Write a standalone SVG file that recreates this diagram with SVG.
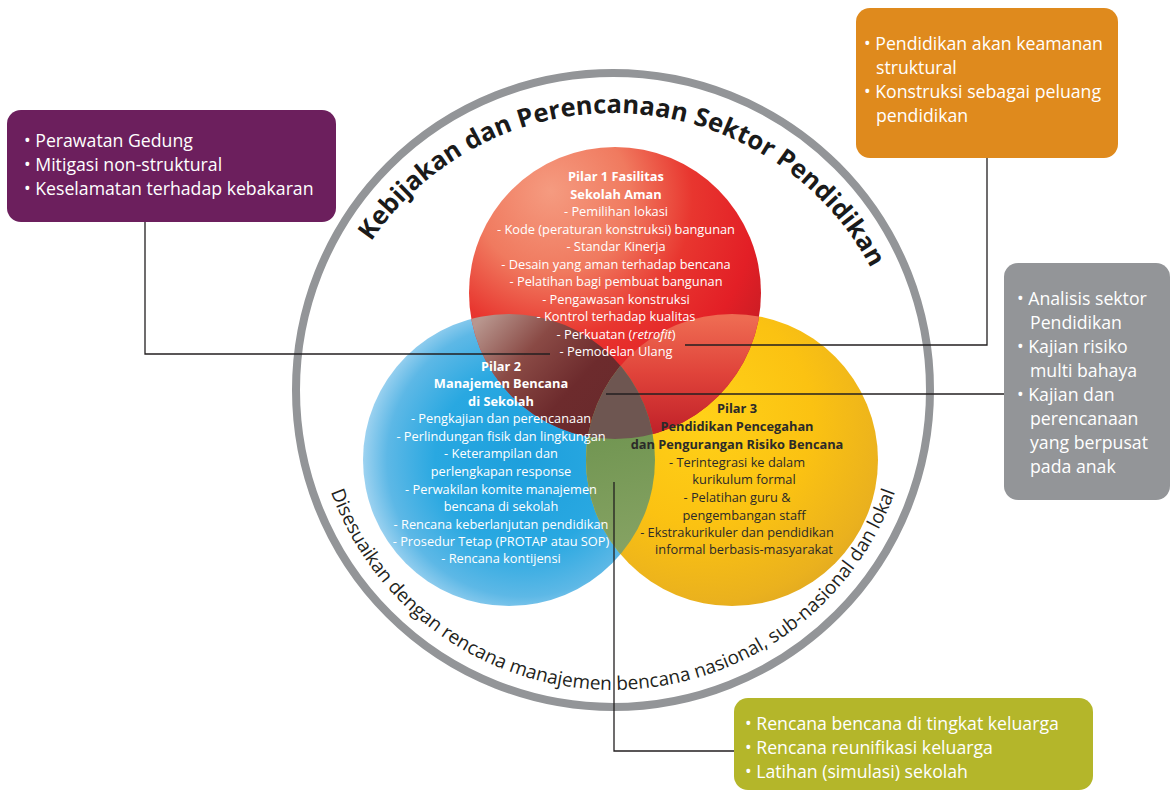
<svg xmlns="http://www.w3.org/2000/svg" width="1171" height="791" viewBox="0 0 1171 791">
<defs>
<style>
.f{font-family:"Open Sans","Liberation Sans",sans-serif}
.pw{fill:#fff;font-size:12.8px;text-anchor:middle}
.pd{fill:#2b2a29;font-size:12.8px;text-anchor:middle}
.b{font-weight:700}
.bx{fill:#fff;font-size:17.7px}
.conn{stroke:#231f20;stroke-width:1.3;fill:none}
.title{font-size:25.5px;font-weight:700;fill:#1a1a1a;letter-spacing:0.1px}
.sub{font-size:19px;fill:#231f20}
</style>
<radialGradient id="gRed" cx="0.3" cy="0.2" r="0.95" fx="0.28" fy="0.15">
<stop offset="0" stop-color="#f59b80"/>
<stop offset="0.28" stop-color="#f07a5f"/>
<stop offset="0.5" stop-color="#e8362f"/>
<stop offset="0.72" stop-color="#e31f26"/>
<stop offset="1" stop-color="#b01a22"/>
</radialGradient>
<radialGradient id="gBlue" cx="0.55" cy="0.5" r="0.55">
<stop offset="0" stop-color="#1d9fdc"/>
<stop offset="0.55" stop-color="#29a8e1"/>
<stop offset="0.85" stop-color="#5db8e6"/>
<stop offset="1" stop-color="#9dd2f0"/>
</radialGradient>
<radialGradient id="gYel" cx="0.4" cy="0.35" r="0.75">
<stop offset="0" stop-color="#ffd118"/>
<stop offset="0.5" stop-color="#fbc212"/>
<stop offset="0.85" stop-color="#eab11e"/>
<stop offset="1" stop-color="#dca523"/>
</radialGradient>
<linearGradient id="gRB" gradientUnits="userSpaceOnUse" x1="480" y1="320" x2="600" y2="430">
<stop offset="0" stop-color="#b8968e"/>
<stop offset="0.35" stop-color="#8a4a45"/>
<stop offset="0.7" stop-color="#6d2b2d"/>
<stop offset="1" stop-color="#692a2c"/>
</linearGradient>
<linearGradient id="gRY" gradientUnits="userSpaceOnUse" x1="700" y1="318" x2="700" y2="430">
<stop offset="0" stop-color="#ee6b52"/>
<stop offset="0.5" stop-color="#e0433a"/>
<stop offset="1" stop-color="#c2232a"/>
</linearGradient>
<linearGradient id="gBY" gradientUnits="userSpaceOnUse" x1="600" y1="420" x2="640" y2="600">
<stop offset="0" stop-color="#6f9450"/>
<stop offset="1" stop-color="#8ea86a"/>
</linearGradient>
<clipPath id="cA"><circle cx="615" cy="293" r="146"/></clipPath>
<clipPath id="cB"><circle cx="509" cy="460" r="146"/></clipPath>
<path id="arcTop" d="M321,405 A292,292 0 0 1 905,405"/>
<path id="arcBot" d="M313,390 A300,300 0 0 0 913,390"/>
</defs>
<rect width="1171" height="791" fill="#fff"/>

<g id="ring">
<circle cx="613" cy="390" r="317" fill="none" stroke="#939598" stroke-width="8"/>
<text class="f title"><textPath href="#arcTop" startOffset="474" text-anchor="middle">Kebijakan dan Perencanaan Sektor Pendidikan</textPath></text>
<text class="f sub"><textPath href="#arcBot" startOffset="50%" text-anchor="middle">Disesuaikan dengan rencana manajemen bencana nasional, sub-nasional dan lokal</textPath></text>
</g>

<g id="venn">
<circle cx="509" cy="460" r="146" fill="url(#gBlue)"/>
<circle cx="732" cy="460" r="146" fill="url(#gYel)"/>
<circle cx="615" cy="293" r="146" fill="url(#gRed)"/>
<circle cx="509" cy="460" r="146" fill="url(#gRB)" clip-path="url(#cA)"/>
<circle cx="732" cy="460" r="146" fill="url(#gRY)" clip-path="url(#cA)"/>
<circle cx="732" cy="460" r="146" fill="url(#gBY)" clip-path="url(#cB)"/>
<g clip-path="url(#cA)"><circle cx="732" cy="460" r="146" fill="#6e5651" clip-path="url(#cB)"/></g>
</g>

<g id="pilar1" class="f">
<text class="pw b" x="616" y="181">Pilar 1 Fasilitas</text>
<text class="pw b" x="616" y="198.5">Sekolah Aman</text>
<text class="pw" x="616" y="216">- Pemilihan lokasi</text>
<text class="pw" x="616" y="233.5">- Kode (peraturan konstruksi) bangunan</text>
<text class="pw" x="616" y="251">- Standar Kinerja</text>
<text class="pw" x="616" y="268.5">- Desain yang aman terhadap bencana</text>
<text class="pw" x="616" y="286">- Pelatihan bagi pembuat bangunan</text>
<text class="pw" x="616" y="303.5">- Pengawasan konstruksi</text>
<text class="pw" x="616" y="321">- Kontrol terhadap kualitas</text>
<text class="pw" x="616" y="338.5">- Perkuatan (<tspan font-style="italic">retrofit</tspan>)</text>
<text class="pw" x="616" y="356">- Pemodelan Ulang</text>
</g>

<g id="pilar2" class="f">
<text class="pw b" x="501" y="370.7">Pilar 2</text>
<text class="pw b" x="501" y="388">Manajemen Bencana</text>
<text class="pw b" x="501" y="405.7">di Sekolah</text>
<text class="pw" x="501" y="423.3">- Pengkajian dan perencanaan</text>
<text class="pw" x="501" y="440.7">- Perlindungan fisik dan lingkungan</text>
<text class="pw" x="501" y="458.3">- Keterampilan dan</text>
<text class="pw" x="501" y="476">perlengkapan response</text>
<text class="pw" x="501" y="493.7">- Perwakilan komite manajemen</text>
<text class="pw" x="501" y="511">bencana di sekolah</text>
<text class="pw" x="501" y="528.7">- Rencana keberlanjutan pendidikan</text>
<text class="pw" x="501" y="546">- Prosedur Tetap (PROTAP atau SOP)</text>
<text class="pw" x="501" y="563.3">- Rencana kontijensi</text>
</g>

<g id="pilar3" class="f">
<text class="pd b" x="737" y="413.3">Pilar 3</text>
<text class="pd b" x="737" y="430.7">Pendidikan Pencegahan</text>
<text class="pd b" x="737" y="448.7">dan Pengurangan Risiko Bencana</text>
<text class="pd" x="737" y="466.7">- Terintegrasi ke dalam</text>
<text class="pd" x="744" y="484.3">kurikulum formal</text>
<text class="pd" x="737" y="502.3">- Pelatihan guru &amp;</text>
<text class="pd" x="744" y="519.5">pengembangan staff</text>
<text class="pd" x="737" y="536.7">- Ekstrakurikuler dan pendidikan</text>
<text class="pd" x="744" y="554.3">informal berbasis-masyarakat</text>
</g>

<g id="connectors">
<polyline class="conn" points="145,222 145,354 550,354"/>
<polyline class="conn" points="987,158 987,345 685,345"/>
<polyline class="conn" points="1004,394 606,394"/>
<polyline class="conn" points="614,482 614,751 734,751"/>
</g>

<g id="box-purple" class="f">
<rect x="7" y="110" width="329" height="112" rx="14" fill="#6c1f5d"/>
<text class="bx" x="24" y="147">• Perawatan Gedung</text>
<text class="bx" x="24" y="171">• Mitigasi non-struktural</text>
<text class="bx" x="24" y="194.5">• Keselamatan terhadap kebakaran</text>
</g>

<g id="box-orange" class="f">
<rect x="856" y="8" width="262" height="150" rx="14" fill="#df8a1d"/>
<text class="bx" x="864" y="50">• Pendidikan akan keamanan</text>
<text class="bx" x="876" y="73.5">struktural</text>
<text class="bx" x="864" y="98.3">• Konstruksi sebagai peluang</text>
<text class="bx" x="876" y="121.7">pendidikan</text>
</g>

<g id="box-gray" class="f">
<rect x="1004" y="263" width="166" height="237" rx="14" fill="#939598"/>
<text class="bx" x="1017" y="305">• Analisis sektor</text>
<text class="bx" x="1030" y="329">Pendidikan</text>
<text class="bx" x="1017" y="353">• Kajian risiko</text>
<text class="bx" x="1030" y="377">multi bahaya</text>
<text class="bx" x="1017" y="401">• Kajian dan</text>
<text class="bx" x="1030" y="425">perencanaan</text>
<text class="bx" x="1030" y="449">yang berpusat</text>
<text class="bx" x="1030" y="473">pada anak</text>
</g>

<g id="box-green" class="f">
<rect x="734" y="698" width="359" height="92" rx="14" fill="#b4b62a"/>
<text class="bx" x="745" y="730">• Rencana bencana di tingkat keluarga</text>
<text class="bx" x="745" y="754">• Rencana reunifikasi keluarga</text>
<text class="bx" x="745" y="777.7">• Latihan (simulasi) sekolah</text>
</g>
</svg>
